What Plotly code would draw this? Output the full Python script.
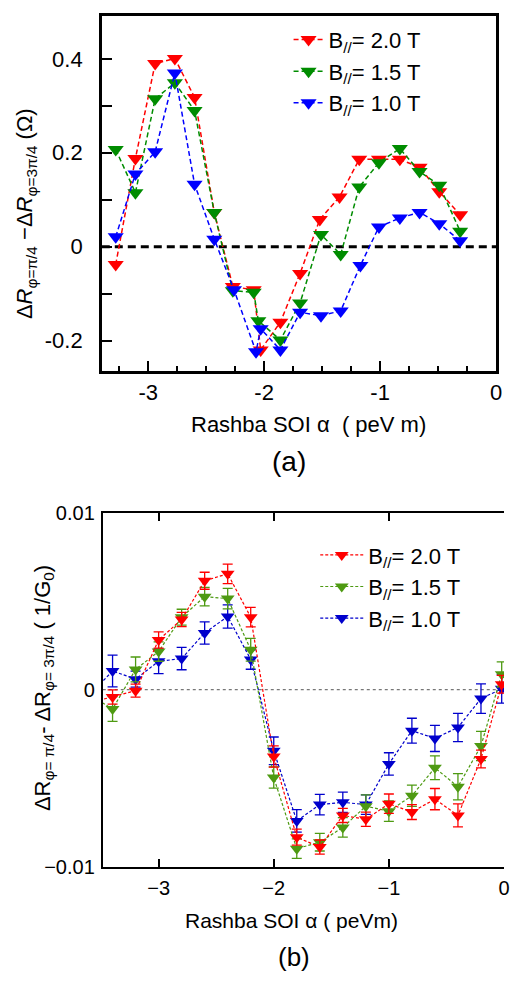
import plotly.graph_objects as go

# ---------------- data: panel (a) ----------------
x_a_red = [-3.28, -3.11, -2.94, -2.77, -2.60, -2.43, -2.27, -2.09, -2.03, -1.86,
           -1.69, -1.52, -1.35, -1.18, -1.01, -0.83, -0.66, -0.49, -0.31]
y_a_red = [-0.038, 0.188, 0.390, 0.401, 0.318, 0.073, -0.085, -0.092, -0.220, -0.161,
           -0.057, 0.058, 0.106, 0.186, 0.186, 0.186, 0.169, 0.117, 0.068]
x_a_green = [-3.28, -3.11, -2.94, -2.77, -2.60, -2.43, -2.27, -2.09, -2.05, -1.86,
             -1.69, -1.51, -1.34, -1.18, -1.01, -0.83, -0.66, -0.49, -0.31]
y_a_green = [0.207, 0.115, 0.315, 0.349, 0.290, 0.073, -0.094, -0.097, -0.158, -0.199,
             -0.120, 0.026, -0.017, 0.127, 0.179, 0.209, 0.160, 0.131, 0.033]
x_a_blue = [-3.28, -3.11, -2.94, -2.77, -2.60, -2.43, -2.26, -2.07, -2.03, -1.86,
            -1.69, -1.51, -1.34, -1.17, -1.01, -0.83, -0.66, -0.49, -0.31]
y_a_blue = [0.021, 0.155, 0.202, 0.370, 0.133, 0.016, -0.092, -0.224, -0.175, -0.220,
            -0.140, -0.147, -0.137, -0.040, 0.042, 0.061, 0.073, 0.049, 0.0125]

# ---------------- data: panel (b) ----------------
x_b = [-3.60, -3.40, -3.20, -3.00, -2.80, -2.60, -2.40, -2.20, -2.00, -1.80,
       -1.60, -1.40, -1.20, -1.00, -0.80, -0.60, -0.40, -0.20, -0.02]
y_b_red = [-0.00075, -0.00042, -0.00006, 0.0028, 0.00396, 0.00615, 0.00654, 0.00409, -0.00378, -0.00834,
           -0.0089, -0.00711, -0.00733, -0.00645, -0.00692, -0.00619, -0.00711, -0.00392, 0.0003]
e_b_red = [0.0004, 0.0004, 0.00037, 0.00046, 0.0004, 0.00048, 0.00055, 0.00055, 0.0006, 0.00045,
           0.0004, 0.0004, 0.0004, 0.00055, 0.00042, 0.0006, 0.00065, 0.0005, 0.0005]
y_b_green = [-0.0003, -0.0011, 0.00114, 0.00215, 0.00409, 0.00525, 0.00514, 0.00225, -0.00497, -0.00899,
             -0.00862, -0.00779, -0.00659, -0.00687, -0.0060, -0.00442, -0.00549, -0.00319, 0.00087]
e_b_green = [0.0007, 0.0007, 0.0007, 0.00055, 0.00045, 0.00052, 0.00058, 0.00064, 0.0006, 0.00055,
             0.0005, 0.00055, 0.00064, 0.00058, 0.0006, 0.00067, 0.00074, 0.00083, 0.0007]
y_b_blue = [-0.0003, 0.00105, 0.00059, 0.0016, 0.00175, 0.0032, 0.00413, 0.0017, -0.00346, -0.00742,
            -0.0065, -0.00637, -0.0065, -0.0042, -0.00232, -0.00276, -0.00214, -0.00051, 0.00004]
e_b_blue = [0.0008, 0.0009, 0.00045, 0.0007, 0.00063, 0.00063, 0.00066, 0.00055, 0.00078, 0.00064,
            0.00058, 0.00057, 0.00055, 0.00063, 0.0007, 0.00074, 0.0008, 0.00083, 0.0008]

series_names = ["B<sub>//</sub>= 2.0 T", "B<sub>//</sub>= 1.5 T", "B<sub>//</sub>= 1.0 T"]

# tick labels
xa_tickvals = [-3, -2, -1, 0]
xa_ticktext = ["-3", "-2", "-1", "0"]
ya_tickvals = [-0.2, -0.1, 0.0, 0.1, 0.2, 0.3, 0.4]
ya_ticktext = ["-0.2", "", "0", "", "0.2", "", "0.4"]
xb_tickvals = [-3, -2, -1, 0]
xb_ticktext = ["\u22123", "\u22122", "\u22121", "0"]
yb_tickvals = [-0.01, 0.0, 0.01]
yb_ticktext = ["\u22120.01", "0", "0.01"]

W, H = 510, 990
FONT = "Liberation Sans, Arial, sans-serif"

top_colors = ["#ff0000", "#008c00", "#0000ff"]
bot_colors = ["#ff0000", "#4e9a12", "#0000cc"]

fig = go.Figure()

for name, col, xs, ys in zip(series_names, top_colors,
                             [x_a_red, x_a_green, x_a_blue],
                             [y_a_red, y_a_green, y_a_blue]):
    fig.add_trace(go.Scatter(
        x=xs, y=ys, mode="lines+markers", name=name,
        line=dict(color=col, width=1.5, dash="5px,3px"),
        marker=dict(symbol="triangle-down", size=14, color=col, line=dict(width=0)),
        xaxis="x", yaxis="y", legend="legend"))

# bottom: draw blue, green, red (red on top); legend reversed
for name, col, ys, es in zip(series_names[::-1], bot_colors[::-1],
                             [y_b_blue, y_b_green, y_b_red],
                             [e_b_blue, e_b_green, e_b_red]):
    fig.add_trace(go.Scatter(
        x=x_b, y=ys, mode="lines+markers", name=name,
        line=dict(color=col, width=1.2, dash="3px,2px"),
        marker=dict(symbol="triangle-down", size=12, color=col, line=dict(width=0)),
        error_y=dict(type="data", array=es, visible=True, color=col, thickness=1.3, width=5),
        xaxis="x2", yaxis="y2", legend="legend2"))

def px_x(p):
    return p / W

def px_y(p):
    return 1 - p / H

fig.update_layout(
    width=W, height=H,
    margin=dict(l=0, r=0, t=0, b=0),
    paper_bgcolor="white", plot_bgcolor="white",
    font=dict(family=FONT, color="black"),
    xaxis=dict(domain=[px_x(103), px_x(502)], range=[-3.40, 0.0], anchor="y",
               tickmode="array", tickvals=xa_tickvals, ticktext=xa_ticktext,
               ticks="inside", ticklen=10, tickwidth=2, tickcolor="black",
               showline=True, linewidth=2.5, linecolor="black", mirror=True,
               showgrid=False, zeroline=False, tickfont=dict(size=22),
               ticklabelstandoff=0,
               minor=dict(ticks="inside", ticklen=5, tickwidth=1.5, tickcolor="black",
                          dtick=0.25, tick0=0, showgrid=False)),
    yaxis=dict(domain=[px_y(368), px_y(5)], range=[-0.2646, 0.4917], anchor="x",
               tickmode="array", tickvals=ya_tickvals, ticktext=ya_ticktext,
               ticks="inside", ticklen=10, tickwidth=2, tickcolor="black",
               showline=True, linewidth=2.5, linecolor="black", mirror=True,
               showgrid=False, zeroline=False, tickfont=dict(size=22),
               ticklabelstandoff=12),
    xaxis2=dict(domain=[px_x(104), 1.0], range=[-3.485, 0.0], anchor="y2",
                tickmode="array", tickvals=xb_tickvals, ticktext=xb_ticktext,
                ticks="inside", ticklen=8, tickwidth=1.5, tickcolor="black",
                showline=True, linewidth=2, linecolor="black", mirror="ticks",
                showgrid=False, zeroline=False, tickfont=dict(size=20),
                ticklabelstandoff=2),
    yaxis2=dict(domain=[px_y(875), px_y(513)], range=[-0.01, 0.01], anchor="x2",
                tickmode="array", tickvals=yb_tickvals, ticktext=yb_ticktext,
                ticks="", showline=True, linewidth=2, linecolor="black", mirror=False,
                showgrid=False, zeroline=False, tickfont=dict(size=20),
                ticklabelstandoff=2),
    legend=dict(x=px_x(292), y=px_y(8), xanchor="left", yanchor="top",
                font=dict(size=22, family=FONT), bgcolor="rgba(0,0,0,0)",
                borderwidth=0, itemwidth=30),
    legend2=dict(x=px_x(319), y=px_y(535), xanchor="left", yanchor="top",
                 font=dict(size=22, family=FONT), bgcolor="rgba(0,0,0,0)",
                 borderwidth=0, itemwidth=43, traceorder="reversed"),
    shapes=[
        dict(type="line", xref="x domain", yref="y", x0=0, x1=1, y0=0, y1=0,
             line=dict(color="black", width=3, dash="8px,5px"), layer="below"),
        dict(type="line", xref="x2 domain", yref="y2", x0=0, x1=1, y0=0, y1=0,
             line=dict(color="#777777", width=1.2, dash="dot"), layer="below"),
    ],
    annotations=[
        dict(text="Δ<i>R</i><sub>φ=π/4</sub> −Δ<i>R</i><sub>φ=3π/4</sub> (Ω)",
             xref="paper", yref="paper", x=px_x(27), y=px_y(207), textangle=-90,
             showarrow=False, font=dict(size=22), xanchor="center", yanchor="middle"),
        dict(text="Rashba SOI α  ( peV m)", xref="paper", yref="paper",
             x=px_x(312), y=px_y(423), showarrow=False, font=dict(size=22),
             xanchor="center", yanchor="middle"),
        dict(text="(a)", xref="paper", yref="paper", x=px_x(292), y=px_y(461),
             showarrow=False, font=dict(size=28), xanchor="center", yanchor="middle"),
        dict(text="ΔR<sub>φ= π/4</sub>- ΔR<sub>φ= 3π/4</sub> ( 1/G<sub>0</sub>)",
             xref="paper", yref="paper", x=px_x(44), y=px_y(692), textangle=-90,
             showarrow=False, font=dict(size=22), xanchor="center", yanchor="middle"),
        dict(text="Rashba SOI α ( peVm)", xref="paper", yref="paper",
             x=px_x(295), y=px_y(930), showarrow=False, font=dict(size=21),
             xanchor="center", yanchor="middle"),
        dict(text="(b)", xref="paper", yref="paper", x=px_x(297), y=px_y(968),
             showarrow=False, font=dict(size=26), xanchor="center", yanchor="middle"),
    ],
)

fig.write_html("out.html")
